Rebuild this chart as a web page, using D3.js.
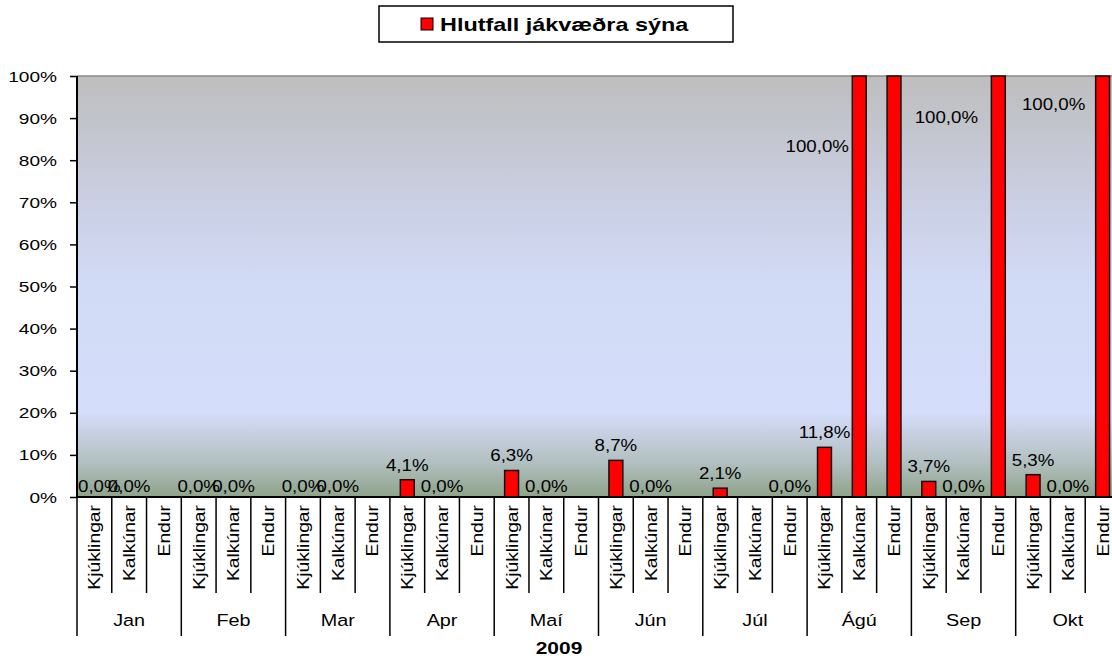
<!DOCTYPE html>
<html><head><meta charset="utf-8">
<script src="https://cdn.jsdelivr.net/npm/d3@7"></script>
<style>
body{margin:0;background:#fff;overflow:hidden}
text{font-family:"Liberation Sans",Arial,Helvetica,sans-serif;fill:#000}
</style>
</head><body><svg id="c" width="1112" height="662"></svg>
<script>
// ---- data ----
const months = ["Jan","Feb","Mar","Apr","Maí","Jún","Júl","Ágú","Sep","Okt"];
const seriesNames = ["Kjúklingar","Kalkúnar","Endur"];
const kjuklingar = [0,0,0,4.1,6.3,8.7,2.1,11.8,3.7,5.3];
const kalkunar   = [0,0,0,0,0,0,null,100,0,0];
const endur      = [null,null,null,null,null,null,0,100,100,100];
const yTicks = [0,10,20,30,40,50,60,70,80,90,100];
const legendLabel = "Hlutfall jákvæðra sýna";
const yearLabel = "2009";

// ---- layout ----
const SX = 1.23;
const P = {left:77, right:1120, top:76, bottom:497};
const svg = d3.select("#c");
const x0 = d3.scaleBand().domain(months).range([P.left, P.right]);
const x1 = d3.scaleBand().domain(seriesNames).range([0, x0.bandwidth()]);
const y = d3.scaleLinear().domain([0,100]).range([P.bottom, P.top]);
const values = {"Kjúklingar":kjuklingar, "Kalkúnar":kalkunar, "Endur":endur};
const loc = d3.formatLocale({decimal:",", thousands:".", grouping:[3], currency:["","kr"]});
const fmt = v => loc.format(".1f")(v) + "%";

function stext(parent, x, yy, str, o={}) {
  const g = parent.append("g")
    .attr("transform", `translate(${x},${yy})${o.rotate ? ` rotate(${o.rotate})` : ""} scale(${o.sx||SX},1)`);
  const t = g.append("text")
    .attr("text-anchor", o.anchor || "middle")
    .style("font-size", (o.size||15.5) + "px")
    .style("font-weight", o.weight || "normal")
    .text(str);
  if (o.dy) t.attr("dy", o.dy);
  return t;
}

// background gradient
const defs = svg.append("defs");
const grad = defs.append("linearGradient").attr("id","bg").attr("x1",0).attr("y1",0).attr("x2",0).attr("y2",1);
[[0,"#bebebe"],[0.3,"#cacfe3"],[0.5,"#d2dbf6"],[0.8,"#d4ddf9"],[0.86,"#c4cddc"],[0.92,"#b1bfbf"],[1,"#8ea38a"]]
  .forEach(([o,c]) => grad.append("stop").attr("offset",o).attr("stop-color",c));
svg.append("rect").attr("x",P.left).attr("y",P.top).attr("width",P.right-P.left).attr("height",P.bottom-P.top)
  .attr("fill","url(#bg)");
svg.append("line").attr("x1",P.left).attr("x2",P.right).attr("y1",P.top).attr("y2",P.top)
  .attr("stroke","#8a8a8a").attr("stroke-width",1.5);

// rows
const rows = [];
months.forEach((mo,i) => seriesNames.forEach(s => {
  const v = values[s][i];
  if (v != null) rows.push({mo, s, v});
}));
const barW = x1.bandwidth()*0.4;
const cx = d => x0(d.mo) + x1(d.s) + x1.bandwidth()/2;

// bars
svg.append("g").selectAll("rect").data(rows.filter(d => d.v > 0)).join("rect")
  .attr("x", d => cx(d) - barW/2)
  .attr("y", d => y(d.v))
  .attr("width", barW)
  .attr("height", d => y(0) - y(d.v))
  .attr("fill", "#ff0000").attr("stroke", "#111").attr("stroke-width", 1.5);

// value labels (labels of full-height bars are moved inside the plot)
const fullPlacement = {
  "Ágú|Kalkúnar": {dx:-42, v:83.4},
  "Ágú|Endur": null,
  "Sep|Endur": {dx:-52, v:90.3},
  "Okt|Endur": {dx:-49, v:93.3}
};
const LBL = {size:17, sx:1.1};
const gl = svg.append("g");
rows.forEach(d => {
  const key = d.mo + "|" + d.s;
  const str = fmt(d.v);
  if (key in fullPlacement) {
    const p = fullPlacement[key];
    if (!p) return;
    stext(gl, cx(d) + p.dx, y(p.v) + 6, str, LBL);
    return;
  }
  let x = cx(d);
  const w = 2.279 * LBL.size * LBL.sx;
  if (x - w/2 < P.left + 1) x = P.left + 1 + w/2;
  stext(gl, x, y(d.v) - (d.v > 0 ? 9 : 5.5), str, LBL);
});

// y axis
const ya = svg.append("g").attr("transform", `translate(${P.left},0)`)
  .call(d3.axisLeft(y).tickValues(yTicks).tickSize(7).tickFormat(""));
ya.select(".domain").remove();
ya.selectAll(".tick line").attr("stroke","#000").attr("stroke-width",1.5);
yTicks.forEach(t => stext(svg, 57, y(t) + 5.5, t + "%", {anchor:"end"}));
svg.append("line").attr("x1",P.left).attr("x2",P.left).attr("y1",P.top).attr("y2",P.bottom)
  .attr("stroke","#000").attr("stroke-width",2);

// x axis
svg.append("line").attr("x1",P.left).attr("x2",P.right).attr("y1",P.bottom).attr("y2",P.bottom)
  .attr("stroke","#000").attr("stroke-width",2);
const gx = svg.append("g");
months.forEach(mo => {
  gx.append("line").attr("x1",x0(mo)).attr("x2",x0(mo)).attr("y1",P.bottom).attr("y2",636)
    .attr("stroke","#000").attr("stroke-width",1.5);
  seriesNames.forEach((s,j) => {
    if (j > 0) {
      const xx = x0(mo) + x1(s);
      gx.append("line").attr("x1",xx).attr("x2",xx).attr("y1",P.bottom).attr("y2",593)
        .attr("stroke","#000").attr("stroke-width",1.5);
    }
    stext(gx, x0(mo) + x1(s) + x1.bandwidth()/2, 505, s, {rotate:-90, anchor:"end", dy:"0.36em", size:16.5, sx:1.17});
  });
  stext(gx, x0(mo) + x0.bandwidth()/2, 626, mo, {size:16.5, sx:1.2});
});
stext(svg, 559, 654, yearLabel, {size:16.5, weight:"bold", sx:1.27});

// legend
svg.append("rect").attr("x",379).attr("y",6).attr("width",354).attr("height",36)
  .attr("fill","#fff").attr("stroke","#000").attr("stroke-width",1.5);
svg.append("rect").attr("x",421).attr("y",18).attr("width",12).attr("height",12)
  .attr("fill","#ff0000").attr("stroke","#000").attr("stroke-width",1);
stext(svg, 440, 31, legendLabel, {anchor:"start", size:18, weight:"bold", sx:1.3});
</script>
</body></html>
